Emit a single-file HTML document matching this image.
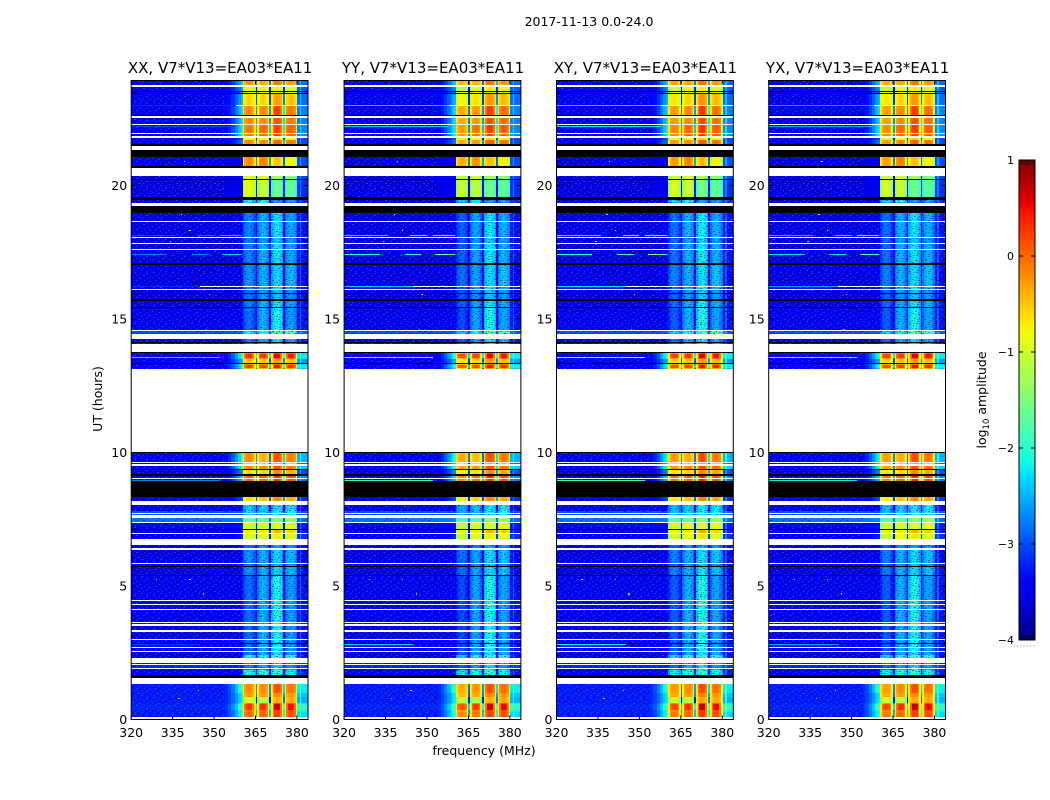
<!DOCTYPE html>
<html lang="en">
<head>
<meta charset="utf-8">
<title>2017-11-13 0.0-24.0</title>
<style>
html,body{margin:0;padding:0;background:#fff;}
svg{display:block;}
text{font-family:"DejaVu Sans","Liberation Sans",sans-serif;fill:#000;}
</style>
</head>
<body>
<svg id="figure" xmlns="http://www.w3.org/2000/svg" width="1050" height="800" viewBox="0 0 1050 800">
  <defs>
    <pattern id="speckle" patternUnits="userSpaceOnUse" x="0" y="0" width="19" height="17" shape-rendering="crispEdges">
      <g fill="#2a66ff" fill-opacity="0.6">
        <rect x="1" y="0" width="2" height="1"/><rect x="7" y="1" width="1" height="1"/><rect x="13" y="1" width="2" height="1"/>
        <rect x="4" y="3" width="1" height="1"/><rect x="10" y="3" width="2" height="1"/><rect x="17" y="4" width="1" height="1"/>
        <rect x="0" y="5" width="1" height="1"/><rect x="6" y="6" width="2" height="1"/><rect x="14" y="6" width="1" height="1"/>
        <rect x="3" y="8" width="2" height="1"/><rect x="11" y="8" width="1" height="1"/><rect x="16" y="9" width="2" height="1"/>
        <rect x="8" y="10" width="1" height="1"/><rect x="1" y="11" width="1" height="1"/><rect x="13" y="11" width="2" height="1"/>
        <rect x="5" y="13" width="2" height="1"/><rect x="10" y="13" width="1" height="1"/><rect x="17" y="14" width="1" height="1"/>
        <rect x="2" y="15" width="1" height="1"/><rect x="8" y="15" width="2" height="1"/><rect x="14" y="16" width="1" height="1"/>
      </g>
      <g fill="#00006a" fill-opacity="0.55">
        <rect x="4" y="0" width="2" height="1"/><rect x="10" y="0" width="1" height="1"/><rect x="16" y="1" width="2" height="1"/>
        <rect x="1" y="2" width="1" height="1"/><rect x="8" y="3" width="1" height="1"/><rect x="13" y="4" width="2" height="1"/>
        <rect x="3" y="5" width="2" height="1"/><rect x="9" y="5" width="1" height="1"/><rect x="17" y="6" width="1" height="1"/>
        <rect x="0" y="7" width="2" height="1"/><rect x="6" y="8" width="2" height="1"/><rect x="13" y="8" width="1" height="1"/>
        <rect x="4" y="10" width="1" height="1"/><rect x="10" y="10" width="2" height="1"/><rect x="16" y="11" width="1" height="1"/>
        <rect x="2" y="12" width="2" height="1"/><rect x="7" y="12" width="1" height="1"/><rect x="12" y="13" width="2" height="1"/>
        <rect x="0" y="14" width="1" height="1"/><rect x="5" y="15" width="2" height="1"/><rect x="11" y="15" width="1" height="1"/><rect x="16" y="16" width="2" height="1"/>
      </g>
    </pattern>
  </defs>
  <text x="589" y="26" font-size="12.5" text-anchor="middle">2017-11-13 0.0-24.0</text>
  <text x="484" y="755" font-size="12.5" text-anchor="middle">frequency (MHz)</text>
  <text x="0" y="0" font-size="12.5" text-anchor="middle" transform="translate(102 399) rotate(-90)">UT (hours)</text>
  <text x="0" y="0" font-size="12.5" text-anchor="middle" transform="translate(986 400) rotate(-90)">log<tspan font-size="8.5" dy="3">10</tspan><tspan dy="-3"> amplitude</tspan></text>
  <g id="panels"></g>
  <g id="colorbar"></g>
</svg>
<script>
// ---------- chart data ----------
const panelTitles = ["XX, V7*V13=EA03*EA11", "YY, V7*V13=EA03*EA11", "XY, V7*V13=EA03*EA11", "YX, V7*V13=EA03*EA11"];
const freqTicks = [320, 335, 350, 365, 380];
const timeTicks = [0, 5, 10, 15, 20];
const colorbarTicks = [1, 0, -1, -2, -3, -4];
const colorbarTickLabels = ["1", "0", "\u22121", "\u22122", "\u22123", "\u22124"];

// Spectra (log10 amplitude): [background, ramp, tail, subband1, subband2, subband3, subband4]
const W = null;                                   // no data (white)
const K = [-9, -9, -9, -9, -9, -9, -9];           // flagged (black)
const Q = [-3.55, -3.5, -3.3, -2.85, -2.6, -2.35, -2.65];
const Q2 = [-3.6, -3.55, -3.35, -2.9, -2.7, -2.5, -2.75];
const Q3 = [-3.55, -3.5, -3.35, -2.75, -2.6, -2.4, -2.55];
const Q4 = [-3.5, -3.48, -3.3, -2.95, -2.6, -2.25, -2.7];

// Lower UT edge of each band, listed from the top of the axis downward; bandSpectrum is the matching spectrum.
const bandEnd = [
 23.76,23.70,23.54,23.50,23.45,23.41,23.02,22.96,22.64,22.59,
 22.53,22.30,22.25,21.97,21.91,21.86,21.78,21.70,21.57,21.48,
 21.33,21.08,20.71,20.64,20.37,20.24,20.21,19.58,19.45,19.35,
 19.23,18.96,18.67,18.64,18.07,18.03,17.85,17.81,17.62,17.58,
 17.08,17.03,16.24,16.19,16.11,16.07,15.99,15.94,15.75,15.67,
 15.46,15.41,14.58,14.54,14.42,14.25,14.15,14.09,14.05,13.78,
 13.74,13.68,13.53,13.49,13.34,13.31,13.26,13.16,13.11,10.01,9.99,9.66,9.60,9.55,
 9.51,9.37,9.35,9.20,9.13,9.06,9.02,8.94,8.32,8.18,
 8.03,7.82,7.75,7.69,7.64,7.56,7.40,7.36,7.13,7.09,
 7.00,6.96,6.75,6.52,6.44,6.35,5.85,5.81,5.75,5.71,
 5.41,5.38,4.48,4.44,4.33,4.29,4.14,4.10,3.64,3.60,
 3.56,3.52,3.35,3.27,3.03,2.98,2.86,2.82,2.73,2.69,
 2.56,2.52,2.42,2.32,2.29,2.11,2.08,2.04,1.94,1.90,
 1.85,1.65,1.55,1.33,0.98,0.86,0.63,0.58,0.34,0.29,0.08,0
];
const bandSpectrum = [
 [-3.5,-2.4,-2.85,-.35,-.45,-.2,-.4],W,[-3.5,-2.7,-2.95,-1,-.9,-.85,-1],K,[-3.55,-2.8,-3,-.9,-.9,-.7,-.9],K,[-3.5,-2.5,-2.85,-.7,-.7,-.4,-.6],W,[-3.5,-2.3,-2.75,-.3,-.3,.1,-.2],K,
 W,[-3.5,-2.3,-2.75,-.3,-.3,0,-.2],W,[-3.45,-2.2,-2.7,-.2,-.1,.1,-.1],W,[-3.45,-2.2,-2.7,-.2,-.1,.1,-.1],W,[-3.55,-3,-3.05,-.9,-.9,-.7,-.9],[-3.5,-2.8,-3,-.3,-.3,-.1,-.2],K,
 W,K,[-3.55,-3.4,-3,-.3,-.25,-.6,-.9],K,W,[-3.55,-3.45,-3.05,-1,-1,-1.3,-1.5],K,[-3.58,-3.5,-3.15,-1,-1.15,-1.7,-1.8],K,[-3.6,-3.5,-3.2,-2.3,-2.2,-2.7,-2.7],
 W,K,Q,W,Q,W,Q2,W,Q,W,
 Q,K,Q3,W,Q,W,Q2,K,Q2,K,
 Q,K,Q4,W,[-3,-2.9,-2.9,-2.3,-2.2,-2,-1.9],W,Q,K,Q2,W,
 K,[-3.45,-2,-2.25,-.2,-.2,0,-.1],[-3.45,-2,-2.2,.2,.15,.45,.3],[-3.45,-2.1,-2.3,-.3,-.3,-.1,-.2],[-3.45,-2.5,-2.6,-.6,-.6,-.4,-.6],K,[-3.45,-2.2,-2.3,-.3,-.3,-.1,-.2],[-3.45,-2.1,-2.2,.1,.05,.3,.15],[-3.45,-2.3,-2.4,-.5,-.5,-.3,-.5],W,K,[-3.45,-2.1,-2.5,-.3,-.5,0,-.25],W,[-3.55,-2.4,-2.9,-.7,-.7,-.5,-.7],
 W,[-3.45,-2,-2.35,-.3,-.3,0,-.2],K,[-3.55,-2.7,-3,-.7,-.7,-.3,-.5],K,[-3.55,-2.3,-2.7,-.1,-.1,.2,0],W,[-3.45,-2.4,-2.8,-.1,-.1,.2,0],K,[-3.55,-3,-3.15,-.7,-.6,-.3,-.5],
 W,[-3.55,-3.5,-3.35,-2.45,-2.45,-2.35,-2.35],[-3,-3,-3,-2.4,-2.4,-2.3,-2.3],W,[-3,-3,-3,-2.4,-2.4,-2.3,-2.3],W,[-2.8,-2.75,-2.85,-1.7,-1.7,-1.5,-1.4],W,[-3.55,-3.3,-3.25,-1,-1,-1.05,-1],K,
 [-3.55,-3.3,-3.25,-.8,-.8,-.5,-.7],W,[-3.55,-3.2,-3.15,-1,-.9,-.8,-1],W,[-3.6,-3.5,-3.35,-2.9,-2.8,-2.7,-2.8],W,Q3,W,Q2,K,
 Q3,K,Q4,W,Q4,W,Q4,W,Q4,W,
 Q4,W,Q4,W,Q4,W,Q4,K,Q4,W,
 Q4,W,Q,[-3.55,-3.5,-3.3,-2.3,-2.2,-2,-2.2],K,W,[-3.3,-3.3,-3.2,-2.85,-2.65,-2.55,-2.75],W,[-3.2,-3.2,-3.1,-2.85,-2.65,-2.45,-2.75],W,
 Q,[-3.5,-3.4,-3.25,-2.2,-2.1,-2.1,-2.3],K,W,[-3.25,-1.9,-2.2,-.3,-.3,0,-.2],[-3.25,-2.2,-2.4,-.4,-.4,-.3,-.4],[-3.25,-2.2,-2.5,-1,-1.2,-.5,-.5],[-3.25,-2,-2.2,-.2,-.15,.1,0],[-3.2,-1.8,-2,.15,.2,.55,.35],[-3.25,-2,-2.2,-.2,-.15,.1,0],[-3.25,-2,-2.3,-.1,-.1,.1,0],W
];

// Per-polarisation subband offsets (log10 amplitude)
const panelOffset = [
 [0, 0, 0, 0],
 [-.18, -.05, .02, .05],
 [-.08, 0, .05, .05],
 [-.1, 0, .02, .03]
];
// Per-polarisation strength of the interference rows
const panelRfiGain = [-.35, .35, .45, .15];

// Narrow-band interference rows
const rfiUT = [22.98, 22.22, 18.14, 18.14, 18.14, 17.40, 17.40, 17.40, 16.21, 13.56, 8.96, 2.80];
const rfiFrom = [320, 320, 320, 344, 352, 320, 342, 353, 320, 320, 320, 320];
const rfiTo = [358, 358, 336, 350, 360, 333, 348, 360, 345, 352, 352, 345];
const rfiLevel = [-2.8, -2.7, -2.7, -2.5, -2.2, -2.4, -2.4, -2.0, -2.8, -2.0, -2.4, -2.7];

// Isolated hot pixels
const hotUT = [20.9, 18.9, 18.3, 17.9, 15.9, 14.6, 5.25, 5.25, 4.7, 1.1, 0.8];
const hotMHz = [339, 338, 341, 334, 348, 347, 329, 341, 346, 344, 337];
const hotLevel = [-1.2, -.6, -.8, -1.5, -1.6, -2, -1.6, -1.6, -2, -1.4, -1.8];

// Frequency layout (MHz)
const backgroundBand = [320, 354];
const rampEdges = [354, 355, 356.2, 357.4, 358.6, 359.6, 360.4];
const rampShape = [0.06, 0.18, 0.36, 0.58, 0.82, 1];
const subbandEdges = [[360.4, 365], [365.6, 369.9], [370.6, 375], [375.6, 380.1]];
const tailBand = [380.1, 384];
const tailSpike = [381, 381.6];
const subbandCaps = [-0.7, -0.05, 9, 9, 9, 9, -0.05, -0.7];
const subbandRipple = [-.2, 0, .08, .14, .14, .08, 0, -.2];

// ---------- geometry ----------
const NS = "http://www.w3.org/2000/svg";
const panelLeft = [131.2, 344.1, 556.5, 768.7];
const panelWidth = 176.8;
const plotTop = 80.5, plotBottom = 719.5;
const timeMax = 23.93;
const colorbarBox = {x: 1019, w: 16, top: 160, bottom: 640};
const levelMin = -4, levelMax = 1;
const QUIET_LIMIT = -1.8;

function xScale(i, mhz) { return panelLeft[i] + (mhz - 320) / 64 * panelWidth; }
function yScale(ut) { return plotBottom - ut / timeMax * (plotBottom - plotTop); }

function interp(pts, t) {
  for (let i = 1; i < pts.length; i++) {
    if (t <= pts[i][0]) {
      const a = pts[i - 1], b = pts[i];
      return a[1] + (b[1] - a[1]) * (t - a[0]) / (b[0] - a[0]);
    }
  }
  return pts[pts.length - 1][1];
}
const jetR = [[0,0],[.35,0],[.66,1],[.89,1],[1,.5]];
const jetG = [[0,0],[.125,0],[.375,1],[.64,1],[.91,0],[1,0]];
const jetB = [[0,.5],[.11,1],[.34,1],[.65,0],[1,0]];
function colorOf(level) {
  if (level < -8) return "#000";
  const t = Math.min(1, Math.max(0, (level - levelMin) / (levelMax - levelMin)));
  const c = [jetR, jetG, jetB].map(p => Math.round(interp(p, t) * 255));
  return "rgb(" + c.join(",") + ")";
}
function make(tag, attrs, parent) {
  const el = document.createElementNS(NS, tag);
  for (const k in attrs) el.setAttribute(k, attrs[k]);
  parent.appendChild(el);
  return el;
}
function cell(group, p, f0, f1, t0, t1, level) {
  const x0 = Math.round(xScale(p, f0)), x1 = Math.round(xScale(p, f1));
  const y0 = Math.round(yScale(t0)), y1 = Math.round(yScale(t1));
  if (x1 <= x0 || y1 <= y0) return null;
  const el = make("rect", {x: x0, y: y0, width: x1 - x0, height: y1 - y0, fill: colorOf(level), "shape-rendering": "crispEdges"}, group);
  
  
  return el;
}
function noise(group, p, f0, f1, t0, t1) {
  const x0 = Math.round(xScale(p, f0)), x1 = Math.round(xScale(p, f1));
  const y0 = Math.round(yScale(t0)), y1 = Math.round(yScale(t1));
  if (x1 <= x0 || y1 <= y0) return null;
  const el = make("rect", {x: x0, y: y0, width: x1 - x0, height: y1 - y0, fill: "url(#speckle)", "shape-rendering": "crispEdges"}, group);
  
  
  return el;
}

const panelsGroup = document.getElementById("panels");

panelTitles.forEach(function (title, p) {
  const g = make("g", {}, panelsGroup);
  
  

  // heatmap cells
  let top = timeMax;
  bandEnd.forEach(function (end, b) {
    const s = bandSpectrum[b];
    if (s) {
      const flagged = s[0] < -8;
      cell(g, p, backgroundBand[0], backgroundBand[1], top, end, s[0]);
      for (let r = 0; r < rampShape.length; r++) {
        cell(g, p, rampEdges[r], rampEdges[r + 1], top, end, s[0] + (s[1] - s[0]) * rampShape[r]);
      }
      let quiet = !flagged;
      subbandEdges.forEach(function (edge, k) {
        const n = subbandCaps.length;
        const level = s[3 + k] + panelOffset[p][k];
        if (level > QUIET_LIMIT) quiet = false;
        for (let c = 0; c < n; c++) {
          const f0 = edge[0] + (edge[1] - edge[0]) * c / n;
          const f1 = edge[0] + (edge[1] - edge[0]) * (c + 1) / n;
          const v = flagged ? -9 : Math.min(level + subbandRipple[c], subbandCaps[c]);
          cell(g, p, f0, f1, top, end, v);
        }
        const gapTo = k < 3 ? subbandEdges[k + 1][0] : edge[1];
        if (gapTo > edge[1]) {
          cell(g, p, edge[1], gapTo, top, end, flagged ? -9 : Math.max(s[0], level - 2.3));
        }
      });
      cell(g, p, tailBand[0], tailBand[1], top, end, s[2]);
      if (!flagged) {
        cell(g, p, tailSpike[0], tailSpike[1], top, end, s[2] + 0.45);
        noise(g, p, 320, quiet ? 384 : 354, top, end);
      }
    }
    top = end;
  });

  // interference rows
  rfiUT.forEach(function (ut, r) {
    cell(g, p, rfiFrom[r], rfiTo[r], ut + 0.02, ut - 0.02, rfiLevel[r] + panelRfiGain[p]);
  });

  // hot pixels
  hotUT.forEach(function (ut, h) {
    cell(g, p, hotMHz[h], hotMHz[h] + 0.5, ut + 0.02, ut - 0.02, hotLevel[h]);
  });

  // frame
  const frame = make("rect", {x: panelLeft[p], y: plotTop, width: panelWidth, height: plotBottom - plotTop, fill: "none", stroke: "#000", "stroke-width": 1}, g);
  
  

  // title
  const ttl = make("text", {x: panelLeft[p] + panelWidth / 2 + 0.5, y: 73, "font-size": 15, "text-anchor": "middle"}, g);
  ttl.textContent = title;
  
  

  // x ticks
  freqTicks.forEach(function (f) {
    const x = xScale(p, f);
    const t1 = make("line", {x1: x, x2: x, y1: plotBottom, y2: plotBottom - 4, stroke: "#000", "stroke-width": 1}, g);
    
    
    const t2 = make("line", {x1: x, x2: x, y1: plotTop, y2: plotTop + 4, stroke: "#000", "stroke-width": 1}, g);
    
    
    const lab = make("text", {x: x, y: 737, "font-size": 12.5, "text-anchor": "middle"}, g);
    lab.textContent = f;
    
    
  });

  // y ticks
  timeTicks.forEach(function (ut) {
    const y = yScale(ut);
    const t1 = make("line", {x1: panelLeft[p], x2: panelLeft[p] + 4, y1: y, y2: y, stroke: "#000", "stroke-width": 1}, g);
    
    
    const t2 = make("line", {x1: panelLeft[p] + panelWidth - 4, x2: panelLeft[p] + panelWidth, y1: y, y2: y, stroke: "#000", "stroke-width": 1}, g);
    
    
    const lab = make("text", {x: panelLeft[p] - 4, y: y + 4.5, "font-size": 12.5, "text-anchor": "end"}, g);
    lab.textContent = ut;
    
    
  });
});

// ---------- colorbar ----------
const cb = document.getElementById("colorbar");
function cbY(level) {
  return colorbarBox.bottom - (level - levelMin) / (levelMax - levelMin) * (colorbarBox.bottom - colorbarBox.top);
}
const colorbarSteps = 256;
for (let i = 0; i < colorbarSteps; i++) {
  const a = levelMin + (levelMax - levelMin) * i / colorbarSteps;
  const b = levelMin + (levelMax - levelMin) * (i + 1) / colorbarSteps;
  const seg = make("rect", {x: colorbarBox.x, y: cbY(b), width: colorbarBox.w, height: cbY(a) - cbY(b) + 0.5, fill: colorOf((a + b) / 2), "shape-rendering": "crispEdges"}, cb);
  
  
}
const cbFrame = make("rect", {x: colorbarBox.x, y: colorbarBox.top, width: colorbarBox.w, height: colorbarBox.bottom - colorbarBox.top, fill: "none", stroke: "#000", "stroke-width": 1}, cb);



colorbarTicks.forEach(function (level, i) {
  const y = cbY(level);
  const a = make("line", {x1: colorbarBox.x, x2: colorbarBox.x + 4, y1: y, y2: y, stroke: "#000", "stroke-width": 1}, cb);
  
  
  const b = make("line", {x1: colorbarBox.x + colorbarBox.w - 4, x2: colorbarBox.x + colorbarBox.w, y1: y, y2: y, stroke: "#000", "stroke-width": 1}, cb);
  
  
  const lab = make("text", {x: colorbarBox.x - 5, y: y + 4, "font-size": 11, "text-anchor": "end"}, cb);
  lab.textContent = colorbarTickLabels[i];
  
  
});

// minor ticks along the short edges, and the tiny dots under the bar
[0.17, 0.33, 0.5, 0.67, 0.83].forEach(function (frac) {
  const x = colorbarBox.x + colorbarBox.w * frac;
  const top = make("line", {x1: x, x2: x, y1: colorbarBox.top, y2: colorbarBox.top + 5, stroke: "#000", "stroke-width": 0.8}, cb);
  
  
  const bottom = make("line", {x1: x, x2: x, y1: colorbarBox.bottom - 5, y2: colorbarBox.bottom, stroke: "#000", "stroke-width": 0.8}, cb);
  
  
});
for (let i = 0; i < 6; i++) {
  const dot = make("rect", {x: 1017 + i * 3.3, y: 645.5, width: 1, height: 1, fill: "#888"}, cb);
  
  
}
</script>
</body>
</html>
